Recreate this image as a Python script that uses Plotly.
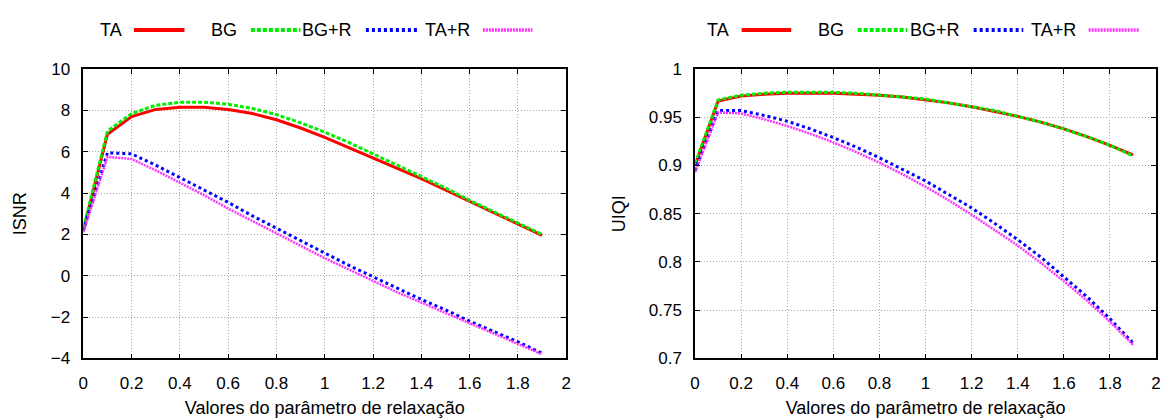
import plotly.graph_objects as go

W, H = 1171, 418

x_vals = [0.0, 0.1, 0.2, 0.3, 0.4, 0.5, 0.6, 0.7, 0.8, 0.9, 1.0,
          1.1, 1.2, 1.3, 1.4, 1.5, 1.6, 1.7, 1.8, 1.9]

series_names = ["TA", "BG", "BG+R", "TA+R"]

isnr_ta = [2.2, 6.85, 7.7, 8.05, 8.15, 8.15, 8.05, 7.85, 7.55, 7.15, 6.7,
           6.2, 5.7, 5.2, 4.7, 4.15, 3.6, 3.05, 2.5, 1.95]
isnr_bg = [2.3, 7.0, 7.85, 8.25, 8.4, 8.4, 8.3, 8.1, 7.8, 7.4, 6.95,
           6.45, 5.9, 5.35, 4.8, 4.25, 3.65, 3.1, 2.55, 2.0]
isnr_bgr = [2.2, 5.95, 5.9, 5.35, 4.75, 4.15, 3.55, 2.9, 2.3, 1.7, 1.1,
            0.5, -0.05, -0.6, -1.15, -1.65, -2.2, -2.7, -3.2, -3.75]
isnr_tar = [2.1, 5.75, 5.65, 5.1, 4.5, 3.9, 3.25, 2.65, 2.05, 1.45, 0.85,
            0.3, -0.25, -0.8, -1.3, -1.8, -2.3, -2.8, -3.3, -3.8]

uiqi_ta = [0.900, 0.967, 0.972, 0.974, 0.975, 0.975, 0.975, 0.974, 0.973, 0.971, 0.968,
           0.965, 0.961, 0.956, 0.951, 0.945, 0.938, 0.930, 0.921, 0.911]
uiqi_bg = [0.902, 0.968, 0.973, 0.975, 0.976, 0.976, 0.976, 0.975, 0.973, 0.971, 0.969,
           0.965, 0.961, 0.957, 0.951, 0.945, 0.938, 0.930, 0.921, 0.910]
uiqi_bgr = [0.895, 0.957, 0.957, 0.952, 0.946, 0.938, 0.929, 0.919, 0.908, 0.896, 0.884,
            0.870, 0.856, 0.840, 0.823, 0.805, 0.785, 0.764, 0.741, 0.716]
uiqi_tar = [0.893, 0.955, 0.954, 0.948, 0.941, 0.933, 0.924, 0.914, 0.903, 0.891, 0.878,
            0.864, 0.849, 0.833, 0.817, 0.799, 0.780, 0.760, 0.738, 0.714]

x_ticks = [0, 0.2, 0.4, 0.6, 0.8, 1, 1.2, 1.4, 1.6, 1.8, 2]
x_tick_text = ["0", "0.2", "0.4", "0.6", "0.8", "1", "1.2", "1.4", "1.6", "1.8", "2"]
isnr_ticks = [-4, -2, 0, 2, 4, 6, 8, 10]
isnr_tick_text = ["\u22124", "\u22122", "0", "2", "4", "6", "8", "10"]
uiqi_ticks = [0.7, 0.75, 0.8, 0.85, 0.9, 0.95, 1]
uiqi_tick_text = ["0.7", "0.75", "0.8", "0.85", "0.9", "0.95", "1"]

x_title = "Valores do parâmetro de relaxação"

styles = [
    dict(color="#ff0000", width=3, dash="solid"),
    dict(color="#00ee00", width=3, dash="4px,2px"),
    dict(color="#0000ff", width=3, dash="3px,3px"),
    dict(color="#ff33ff", width=2.5, dash="2px,1px"),
]

FONT = "Liberation Sans, Arial, sans-serif"

fig = go.Figure()
left_data = [isnr_ta, isnr_bg, isnr_bgr, isnr_tar]
right_data = [uiqi_ta, uiqi_bg, uiqi_bgr, uiqi_tar]
for name, ys, st in zip(series_names, left_data, styles):
    fig.add_trace(go.Scatter(x=x_vals, y=ys, mode="lines", name=name, line=st,
                             xaxis="x", yaxis="y", showlegend=False))
for name, ys, st in zip(series_names, right_data, styles):
    fig.add_trace(go.Scatter(x=x_vals, y=ys, mode="lines", name=name, line=st,
                             xaxis="x2", yaxis="y2", showlegend=False))

def px_x(p):
    return p / W

def px_y(p):
    return 1 - p / H

ydom = [px_y(366), px_y(63)]
common = dict(showline=True, linecolor="black", linewidth=1.5, mirror="ticks",
              ticks="inside", ticklen=5, tickcolor="black",
              showgrid=True, gridcolor="#a8a8a8", griddash="1px,2px", gridwidth=1,
              zeroline=False, tickfont=dict(size=17, color="black", family=FONT))

fig.update_layout(
    width=W, height=H,
    margin=dict(l=0, r=0, t=0, b=0),
    paper_bgcolor="white", plot_bgcolor="white",
    font=dict(family=FONT, color="black"),
    xaxis=dict(domain=[px_x(79), px_x(566)], anchor="y", range=[0, 2],
               tickvals=x_ticks, ticktext=x_tick_text, ticklabelstandoff=8,
               title=dict(text=x_title, font=dict(size=18), standoff=11), **common),
    yaxis=dict(domain=ydom, anchor="x", range=[-4, 10],
               tickvals=isnr_ticks, ticktext=isnr_tick_text, ticklabelstandoff=8,
               title=dict(text="ISNR", font=dict(size=18), standoff=19), **common),
    xaxis2=dict(domain=[px_x(696), px_x(1161)], anchor="y2", range=[0, 2],
                tickvals=x_ticks, ticktext=x_tick_text, ticklabelstandoff=8,
                title=dict(text=x_title, font=dict(size=18), standoff=11), **common),
    yaxis2=dict(domain=ydom, anchor="x2", range=[0.7, 1],
                tickvals=uiqi_ticks, ticktext=uiqi_tick_text, ticklabelstandoff=8,
                title=dict(text="UIQI", font=dict(size=18), standoff=19), **common),
)

# gnuplot-style legends: label text followed by line sample
legend_layout = {
    "left": [(120, 130, 181), (236, 248, 298), (352, 364, 416), (471, 482, 532)],
    "right": [(732, 743, 793), (848, 860, 910), (965, 977, 1027), (1082, 1093, 1144)],
}
leg_y = 22
for panel, items in legend_layout.items():
    for name, st, (tx, x0, x1) in zip(series_names, styles, items):
        fig.add_annotation(x=px_x(tx), y=px_y(leg_y), xref="paper", yref="paper",
                           text=name, showarrow=False, xanchor="right", yanchor="middle",
                           font=dict(size=18, color="black", family=FONT))
        fig.add_shape(type="line", xref="paper", yref="paper",
                      x0=px_x(x0), x1=px_x(x1), y0=px_y(leg_y), y1=px_y(leg_y),
                      line=dict(color=st["color"], width=st["width"] + 1, dash=st["dash"]))

fig.write_html("out.html")
